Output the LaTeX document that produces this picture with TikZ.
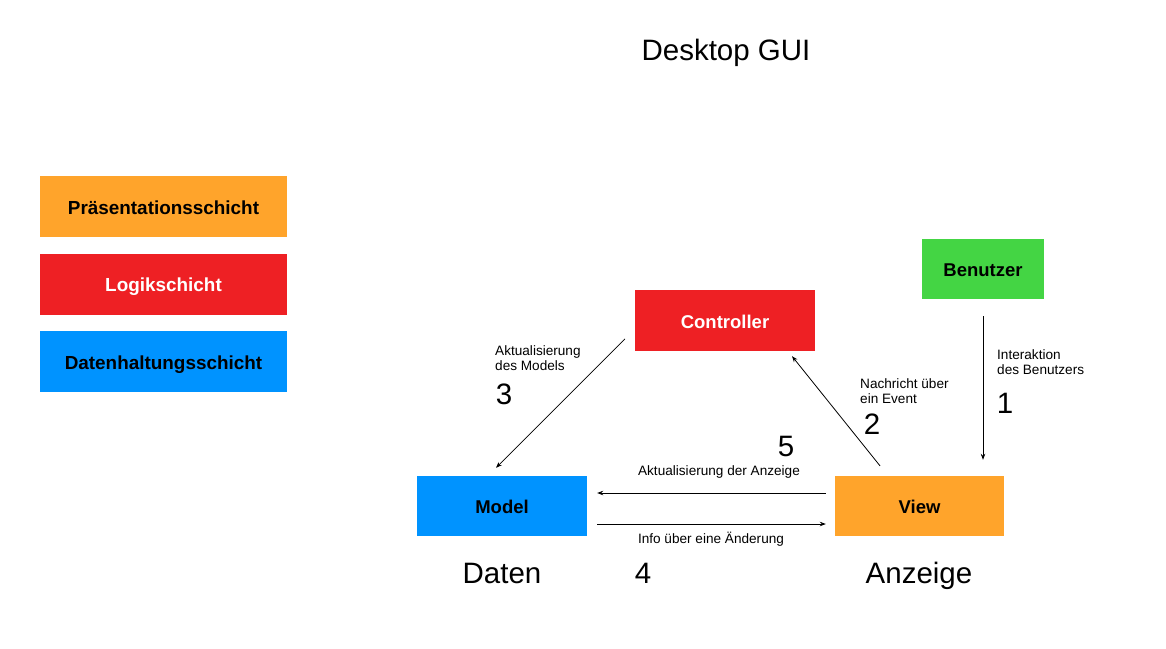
\documentclass[tikz,border=0pt]{standalone}
\usepackage{fontspec}
\setmainfont{Liberation Sans}
\usetikzlibrary{arrows.meta}
\definecolor{praes}{HTML}{FFA42B}
\definecolor{logik}{HTML}{EE2024}
\definecolor{daten}{HTML}{0093FF}
\definecolor{nutzer}{HTML}{44D544}
\begin{document}
\begin{tikzpicture}[
      x=1pt, y=-1pt,
      box/.style={inner sep=0pt, text height=15.6pt, text depth=0pt, font=\fontsize{18.5}{20}\selectfont\bfseries},
      layer/.style={box, font=\fontsize{18.9}{20}\selectfont\bfseries, minimum width=247pt, minimum height=61pt},
      part/.style={box, minimum width=170pt, minimum height=60pt},
      note/.style={inner sep=0pt, anchor=base west, align=left, font=\fontsize{13.6}{15}\selectfont},
      big/.style={inner sep=0pt, anchor=base, font=\fontsize{29.5}{30}\selectfont},
      flow/.style={line width=0.8pt, -{Stealth[length=6pt, width=4.5pt]}},
  ]
    \useasboundingbox (0,0) rectangle (1166,648);
    \node[big] (title) at (726,60) {Desktop GUI};

    \node[layer, fill=praes] (lpraes) at (163.5,206.5) {Präsentationsschicht};
    \node[layer, fill=logik, text=white] (llogik) at (163.5,284) {Logikschicht};
    \node[layer, fill=daten] (ldaten) at (163.5,361.5) {Datenhaltungsschicht};

    \node[part, fill=logik, text=white, minimum width=180pt, minimum height=61pt] (controller) at (725,320.5) {Controller};
    \node[part, fill=nutzer, minimum width=122pt] (benutzer) at (983,269) {Benutzer};
    \node[part, fill=daten] (model) at (502,506) {Model};
    \node[part, fill=praes, minimum width=169pt] (view) at (919.5,506) {View};

    \draw[flow, shorten <=17pt, shorten >=16pt] (benutzer.south) -- (benutzer.south |- view.north);
    \draw[flow, shorten <=12.8pt, shorten >=6.4pt] ([xshift=-31.5pt]view.north) -- ([xshift=63pt]controller.south);
    \draw[flow, shorten <=14pt, shorten >=11.3pt] ([yshift=-8.5pt]controller.west) -- ([xshift=-14pt]model.north);
    \draw[flow, shorten <=9pt, shorten >=10pt] ([yshift=13pt]view.west) -- ([yshift=13pt]model.east);
    \draw[flow, shorten <=10pt, shorten >=9pt] ([yshift=-18pt]model.east) -- ([yshift=-18pt]view.west);

    \node[note] (n1) at (997,374) {Interaktion\\des Benutzers};
    \node[note] (n2) at (860,403.3) {Nachricht über\\ein Event};
    \node[note] (n3) at (495,370) {Aktualisierung\\des Models};
    \node[note, anchor=base] (n5) at (719,475) {Aktualisierung der Anzeige};
    \node[note, anchor=base] (n4) at (711,543.3) {Info über eine Änderung};

    \node[big] (s1) at (1005,413.3) {1};
    \node[big] (s2) at (872,434) {2};
    \node[big] (s3) at (504,404) {3};
    \node[big] (s5) at (786,456.7) {5};
    \node[big] (s4) at (643,583) {4};

    \node[big] (daten) at (502,583) {Daten};
    \node[big] (anzeige) at (919,583) {Anzeige};
  \end{tikzpicture}
\end{document}
